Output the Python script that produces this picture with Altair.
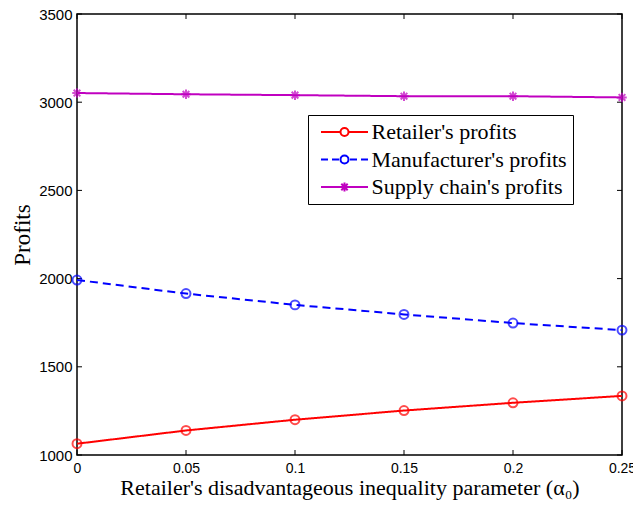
import altair as alt
import pandas as pd

alpha = [0, 0.05, 0.1, 0.15, 0.2, 0.25]
retailer = [1064, 1139, 1200, 1252, 1296, 1335]
manufacturer = [1992, 1915, 1851, 1797, 1748, 1708]
supply = [3052, 3045, 3040, 3034, 3034, 3027]

series_names = ["Retailer's profits", "Manufacturer's profits", "Supply chain's profits"]
colors = ["#ff0000", "#0000ff", "#c000c0"]
dashes = [[1, 0], [8, 5], [1, 0]]

x_ticks = [0, 0.05, 0.1, 0.15, 0.2, 0.25]
y_ticks = [1000, 1500, 2000, 2500, 3000, 3500]

rows = []
for name, vals in zip(series_names, [retailer, manufacturer, supply]):
    for a, v in zip(alpha, vals):
        rows.append({"alpha": a, "profit": v, "series": name})
df = pd.DataFrame(rows)

W, H = 545, 441

xs = alt.Scale(domain=[0, 0.25], nice=False, zero=False)
ys = alt.Scale(domain=[1000, 3500], nice=False, zero=False)
cs = alt.Scale(domain=series_names, range=colors)

# legend glyphs: line segment with marker (unit = 10 px for symbolSize 400)
circle_path = "M0.4,0A0.4,0.4 0 1 1 -0.4,0A0.4,0.4 0 1 1 0.4,0"
star_small = "M-0.45,0L0.45,0M0,-0.45L0,0.45M-0.32,-0.32L0.32,0.32M-0.32,0.32L0.32,-0.32"
leg_shapes = [
    "M-2.35,0L-0.4,0M0.4,0L2.35,0" + circle_path,
    "M-2.35,0L-1.65,0M-1.25,0L-0.55,0M0.55,0L1.25,0M1.65,0L2.35,0" + circle_path,
    "M-2.35,0L2.35,0" + star_small,
]
star = "M-1,0L1,0M0,-1L0,1M-0.7,-0.7L0.7,0.7M-0.7,0.7L0.7,-0.7"

base = alt.Chart(df)
X = alt.X("alpha:Q", scale=xs, axis=alt.Axis(
    values=x_ticks, labelExpr="datum.value + ''",
    title="Retailer's disadvantageous inequality parameter (α₀)",
    domain=False, ticks=False, grid=False, labelFlush=False, labelPadding=6,
    labelFont="Liberation Sans", labelFontSize=14, labelColor="#000000",
    titleFont="Liberation Serif", titleFontSize=22, titleFontWeight="normal",
    titleColor="#000000", titlePadding=2))
Y = alt.Y("profit:Q", scale=ys, axis=alt.Axis(
    values=y_ticks, format="d", title="Profits", domain=False, ticks=False, grid=False,
    labelPadding=5, labelFont="Liberation Sans", labelFontSize=15, labelColor="#000000",
    titleFont="Liberation Serif", titleFontSize=23, titleFontWeight="normal",
    titleColor="#000000", titlePadding=4))

lines = base.mark_line(strokeWidth=2).encode(
    x=X, y=Y,
    color=alt.Color("series:N", scale=cs, legend=None),
    strokeDash=alt.StrokeDash("series:N", scale=alt.Scale(domain=series_names, range=dashes), legend=None),
)

circles = base.transform_filter(alt.datum.series != "Supply chain's profits").mark_point(
    shape="circle", size=80, strokeWidth=2, filled=False).encode(
    x="alpha:Q", y="profit:Q",
    color=alt.Color("series:N", scale=cs, legend=None),
)
stars = base.transform_filter(alt.datum.series == "Supply chain's profits").mark_point(
    shape=star, size=90, strokeWidth=2, filled=False).encode(
    x="alpha:Q", y="profit:Q",
    color=alt.Color("series:N", scale=cs, legend=None),
)

leg = alt.Legend(
    title=None, orient="none", legendX=231, legendY=101,
    symbolSize=400, symbolStrokeWidth=2, symbolOpacity=1,
    symbolFillColor="transparent",
    symbolStrokeColor=alt.ExprRef(expr="scale('color', datum.value)"),
    symbolOffset=19.5, labelOffset=16,
    labelFont="Liberation Serif", labelFontSize=22, labelColor="#000000",
    rowPadding=5.5, padding=6,
    strokeColor="#000000", fillColor="#ffffff", labelLimit=400,
)

# legend helper layer: data-derived (sorted) domain so it is not merged with the hidden color legend
legend_layer = base.mark_point(opacity=0, filled=False, strokeWidth=2).encode(
    x="alpha:Q", y="profit:Q",
    shape=alt.Shape("series:N", sort=series_names, scale=alt.Scale(range=leg_shapes), legend=leg),
)

xt = pd.DataFrame({"t": x_ticks})
yt = pd.DataFrame({"t": y_ticks})
tick_x_bottom = alt.Chart(xt).mark_rule(color="#000000", strokeWidth=1).encode(
    x=alt.X("t:Q", scale=xs), y=alt.value(H), y2=alt.value(H - 5))
tick_x_top = alt.Chart(xt).mark_rule(color="#000000", strokeWidth=1).encode(
    x=alt.X("t:Q", scale=xs), y=alt.value(0), y2=alt.value(5))
tick_y_left = alt.Chart(yt).mark_rule(color="#000000", strokeWidth=1).encode(
    y=alt.Y("t:Q", scale=ys), x=alt.value(0), x2=alt.value(5))
tick_y_right = alt.Chart(yt).mark_rule(color="#000000", strokeWidth=1).encode(
    y=alt.Y("t:Q", scale=ys), x=alt.value(W), x2=alt.value(W - 5))

chart = alt.layer(
    tick_x_bottom, tick_x_top, tick_y_left, tick_y_right,
    lines, circles, stars, legend_layer,
).properties(
    width=W, height=H,
    padding={"left": 77, "top": 14, "right": 11, "bottom": 53},
    autosize=alt.AutoSizeParams(type="none"),
    background="#ffffff",
).configure_view(stroke="#000000", strokeWidth=1.5)

chart.save("out.html", embed_options={"renderer": "svg", "actions": False})
